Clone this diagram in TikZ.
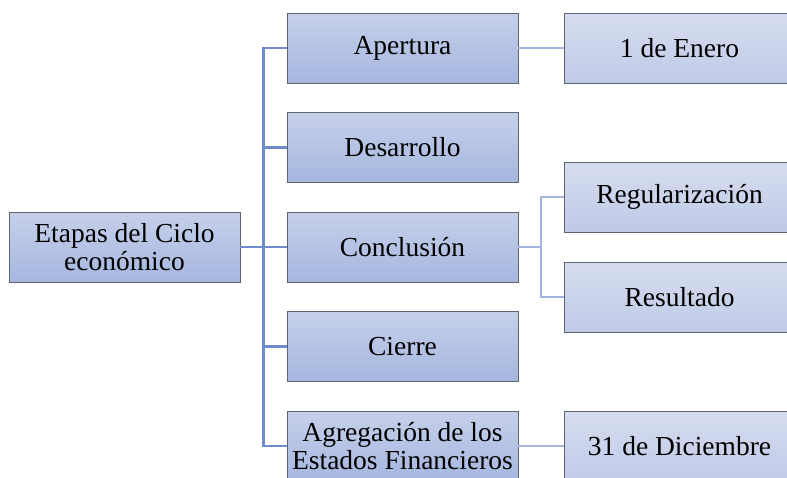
\documentclass[tikz,border=0pt]{standalone}
\usepackage{fontspec}
\setmainfont{Liberation Serif}
\usetikzlibrary{calc}
\usetikzlibrary{positioning}
\definecolor{stagetop}{HTML}{C6D0EA}
\definecolor{stagebot}{HTML}{A6B6DF}
\definecolor{subtop}{HTML}{D6DDEF}
\definecolor{subbot}{HTML}{BFCAE7}
\definecolor{trunkblue}{HTML}{6F8BCB}
\definecolor{twigblue}{HTML}{A3B4DD}
\definecolor{boxline}{HTML}{5E6472}
\tikzset{
  x=1pt, y=1pt,
  every node/.style={font=\fontsize{27.5}{28}\selectfont, align=center},
  stage/.style={draw=boxline, line width=0.8pt, top color=stagetop, bottom color=stagebot,
    minimum width=231pt, minimum height=70pt, inner sep=0, outer sep=0},
  detail/.style={stage, top color=subtop, bottom color=subbot},
  trunk/.style={draw=trunkblue, line width=2.4pt},
  twig/.style={draw=twigblue, line width=2.4pt}
}
\begin{document}
\begin{tikzpicture}
  \clip (0,0) rectangle (787,-477);

  \node[stage] (apertura) at (402.5,-48) {Apertura};
  \node[stage, below=29.5pt of apertura] (desarrollo) {Desarrollo};
  \node[stage, below=29.5pt of desarrollo] (conclusion) {Conclusi\'on};
  \node[stage, below=29.5pt of conclusion] (cierre) {Cierre};
  \node[stage, below=29.5pt of cierre] (agregacion) {Agregaci\'on de los\\Estados Financieros};

  \node[stage, left=47pt of conclusion] (ciclo) {Etapas del Ciclo\\econ\'omico};

  \node[detail, right=46pt of apertura] (enero) {1 de Enero};
  \node[detail, right=46pt of conclusion, yshift=50pt] (regular) {Regularizaci\'on};
  \node[detail, right=46pt of conclusion, yshift=-50pt] (resultado) {Resultado};
  \node[detail, right=46pt of agregacion] (diciembre) {31 de Diciembre};

  % main branch
  \coordinate (tronco) at ($(ciclo.east)!0.5!(conclusion.west)$);
  \draw[trunk] (ciclo.east) -- (conclusion.west);
  \draw[trunk] (apertura.west) -- (apertura.west -| tronco) -- (agregacion.west -| tronco) -- (agregacion.west);
  \foreach \n in {desarrollo, cierre}
    \draw[trunk] (\n.west) -- (\n.west -| tronco);

  % sub branches
  \coordinate (rama) at ($(conclusion.east)!0.5!(regular.west |- conclusion)$);
  \draw[twig] (conclusion.east) -- (rama);
  \draw[twig] (regular.west) -- (regular.west -| rama) -- (resultado.west -| rama) -- (resultado.west);
  \draw[twig] (apertura) -- (enero);
  \draw[twig] (agregacion) -- (diciembre);
\end{tikzpicture}
\end{document}
